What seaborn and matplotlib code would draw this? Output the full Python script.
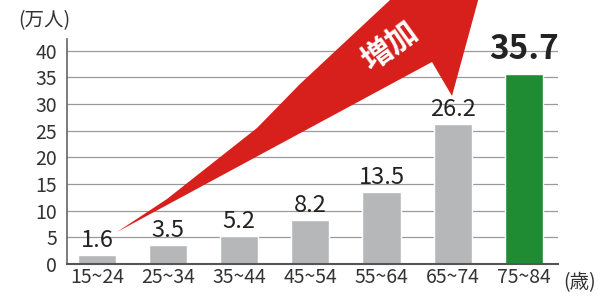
import matplotlib
matplotlib.use("Agg")
import matplotlib.pyplot as plt
from matplotlib.patches import Polygon
import seaborn as sns
import pandas as pd

# Data
age_groups = ["15~24", "25~34", "35~44", "45~54", "55~64", "65~74", "75~84"]
people = [1.6, 3.5, 5.2, 8.2, 13.5, 26.2, 35.7]
bar_colors = ["#b5b7b9"] * 6 + ["#1f8c34"]
y_ticks = [0, 5, 10, 15, 20, 25, 30, 35, 40]

sns.set_theme(style="white")
plt.rcParams["font.family"] = ["Noto Sans CJK JP", "DejaVu Sans"]

df = pd.DataFrame({"age": age_groups, "people": people})

fig = plt.figure(figsize=(5.99, 2.97), dpi=100)
ax = fig.add_axes([67 / 599, 33 / 297, (558 - 67) / 599, (264 - 39) / 297])

ax.yaxis.grid(True, color="#9a9a9a", linewidth=0.9, zorder=0)
ax.set_axisbelow(True)

sns.barplot(data=df, x="age", y="people", hue="age", palette=bar_colors,
            legend=False, width=0.535, saturation=1, ax=ax, zorder=2)

ax.set_ylim(0, 42.2)
ax.set_xlim(-0.42, 6.48)
ax.set_yticks(y_ticks)
ax.set_xlabel("")
ax.set_ylabel("")
ax.tick_params(axis="both", length=0, labelsize=14, labelcolor="#333333")
ax.tick_params(axis="y", pad=7)
ax.tick_params(axis="x", pad=2)

for side in ["top", "right"]:
    ax.spines[side].set_visible(False)
ax.spines["left"].set_color("#666666")
ax.spines["left"].set_linewidth(1.2)
ax.spines["bottom"].set_color("#555555")
ax.spines["bottom"].set_linewidth(1.5)

# value labels
for i, v in enumerate(people):
    if i == len(people) - 1:
        ax.text(i, v + 1.4, f"{v}", ha="center", va="bottom", fontsize=24,
                fontweight="bold", color="#222222")
    else:
        ax.text(i, v + 0.6, f"{v}", ha="center", va="bottom", fontsize=17,
                color="#222222")

# big red "increase" arrow (decoration, placed in figure pixels)
W, H = 599, 297
arrow_px = [(117, 232), (432, 62), (452, 96), (500, -80), (360, -60),
            (390, 0), (300, 84), (257, 128), (167, 199)]
arrow = Polygon([(x / W, 1 - y / H) for x, y in arrow_px], closed=True,
                facecolor="#d7201c", edgecolor="none",
                transform=fig.transFigure, clip_on=False, zorder=3)
ax.add_patch(arrow)
fig.text(390 / W, 1 - 46 / H, "増加", rotation=36, ha="center", va="center",
         fontsize=22, fontweight="bold", color="white", zorder=4)

# unit labels
fig.text(44 / W, 1 - 21 / H, "(万人)", ha="center", va="center",
         fontsize=14, color="#333333")
fig.text(580 / W, 1 - 283 / H, "(歳)", ha="center", va="center",
         fontsize=14, color="#333333")

fig.savefig("out.png", dpi=100)
